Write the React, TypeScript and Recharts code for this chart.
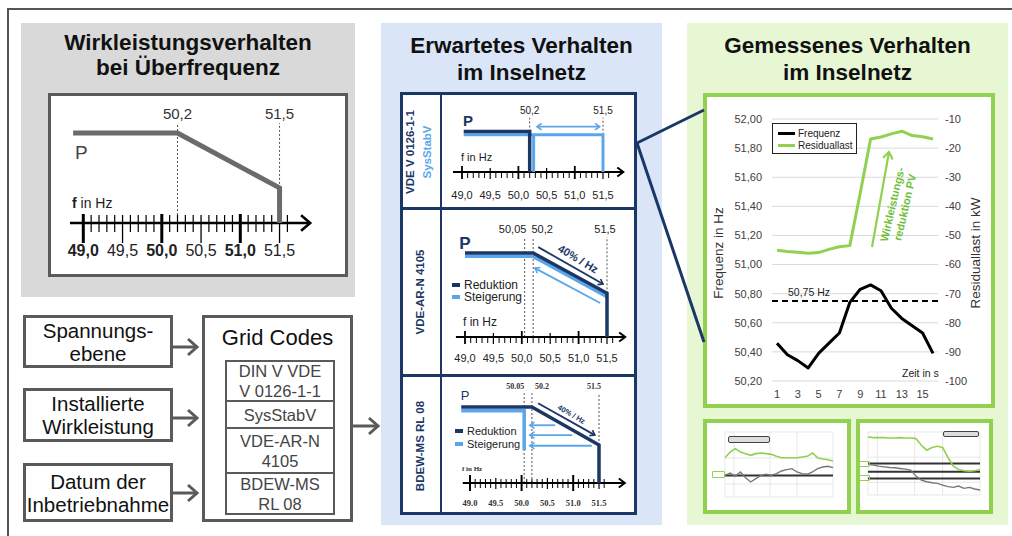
import React from 'react';
import { LineChart, Line, XAxis, YAxis, CartesianGrid, ReferenceLine, Legend } from 'recharts';

const FONT = '"Liberation Sans", Arial, Helvetica, sans-serif';
const SERIF = '"Liberation Serif", "DejaVu Serif", serif';
const NAVY = '#1b3766';
const LIGHT = '#5ba6ea';
const GREEN = '#92d050';
const GRAY = '#5a5a5a';

// Gemessenes Verhalten im Inselnetz
const zeit = ['1', '2', '3', '4', '5', '6', '7', '8', '9', '10', '11', '12', '13', '14', '15', '16'];
const frequenz = [50.46, 50.38, 50.34, 50.29, 50.39, 50.46, 50.53, 50.74, 50.83, 50.86, 50.82, 50.7, 50.63, 50.58, 50.53, 50.39];
const residuallast = [-55.1, -55.5, -55.8, -56.1, -55.9, -54.8, -53.9, -53.5, -35.5, -16.9, -16.2, -15.1, -14.2, -15.7, -16.1, -16.9];
const grenzFrequenz = 50.75;
const freqTicks = [50.2, 50.4, 50.6, 50.8, 51.0, 51.2, 51.4, 51.6, 51.8, 52.0];
const lastTicks = [-100, -90, -80, -70, -60, -50, -40, -30, -20, -10];

// P(f) Kennlinien
const ueberF = [48.87, 50.2, 51.5, 51.5];
const ueberP = [100, 100, 39, 0];
const vde0126F = [49.03, 50.2, 50.2];
const vde0126P = [100, 100, 0];
const sysStabF = [49.03, 51.5, 51.5];
const sysStabP = [92, 92, 0];
const sysStabBackF = [50.27, 50.27];
const sysStabBackP = [92, 0];
const ar4105RedF = [49.0, 50.2, 51.5, 51.5];
const ar4105RedP = [100, 100, 52, 0];
const ar4105SteigF = [49.0, 50.2, 51.5];
const ar4105SteigP = [96, 96, 48];
const bdewRedF = [48.83, 50.2, 51.5, 51.5];
const bdewRedP = [100, 100, 50, 0];
const bdewSteigF = [48.83, 50.05, 50.05];
const bdewSteigP = [95, 95, 43];

// Frequenzachse
const freqAxisTicks = Array.from({ length: 27 }, (_, i) => Math.round((49 + i * 0.1) * 10) / 10);
const freqLabelTicks = [49.0, 49.5, 50.0, 50.5, 51.0, 51.5];
const freqLabels = ['49,0', '49,5', '50,0', '50,5', '51,0', '51,5'];
const freqLabelsDot = ['49.0', '49.5', '50.0', '50.5', '51.0', '51.5'];

// Vorschaubilder
const thumbLGreen = [60.5, 69.2, 74.4, 69.2, 66.7, 64.1, 66.7, 67.7, 66.7, 65.6, 62.6, 60.5, 60.5, 60.5, 60.5, 61.5, 62.6, 67.7, 60.5, 58.5, 57.4, 55.4];
const thumbLGray = [33.3, 36.9, 31.8, 38.5, 29.7, 23.1, 28.2, 33.3, 34.9, 33.3, 35.9, 40, 42.1, 43.6, 38.5, 35.9, 34.9, 38.5, 43.6, 46.2, 47.2, 45.1];
const thumbLLevels = [33];
const thumbRGreen = [92.1, 91.1, 91.1, 91.1, 90.5, 90.5, 91.1, 90.5, 90.5, 89.5, 78.9, 71.1, 75.3, 77.4, 75.3, 59.5, 45.8, 40.5, 38.4, 37.9, 38.4, 40.5];
const thumbRGray = [48.9, 47.4, 45.8, 44.7, 43.7, 43.2, 42.1, 41.1, 39.5, 30, 23.7, 21.1, 19.5, 18.4, 15.8, 13.2, 12.1, 14.2, 10.5, 12.1, 9.5, 7.9];
const thumbRLevels = [50, 36.8, 26.3];

const einfluss = [['Spannungs-', 'ebene'], ['Installierte', 'Wirkleistung'], ['Datum der', 'Inbetriebnahme']];
const gridCodes = [['DIN V VDE', 'V 0126-1-1'], ['SysStabV'], ['VDE-AR-N', '4105'], ['BDEW-MS', 'RL 08']];

const pts = (f: number[], p: number[]) => f.map((x, i) => ({ f: x, p: p[i] }));

type Series = { f: number[]; p: number[]; color: string; w: number; end?: string; start?: string };
type Guide = { f: number; from: number; to: number; label: string; dx: number };
type TickCfg = {
  minor: number[]; half: number[]; major: number[];
  minorW: number; halfW: number; majorW: number;
  dy: number; size: number; family: string; boldMajor: boolean; boldAll: boolean; labels: string[]; color: string;
};
type GuideFont = { size: number; family: string; weight: number; color: string };

const renderLabel = (cfg: TickCfg) => (props: any) => {
  const { x, y, payload } = props;
  const t = Math.round(payload.value * 10);
  const li = freqLabelTicks.findIndex((v) => Math.round(v * 10) === t);
  const major = t % 10 === 0;
  return (
    <text x={x} y={y + cfg.dy} textAnchor="middle" fontSize={cfg.size} fontFamily={cfg.family}
      fontWeight={cfg.boldAll || (cfg.boldMajor && major) ? 700 : 400} fill={cfg.color}>{cfg.labels[li]}</text>
  );
};

function PfChart(props: {
  box: number[]; x49: number; hz: number; y0: number; y100: number;
  fRange: number[]; pMax: number; axis: number[]; axisW: number; axisMarker: string;
  series: Series[]; guides: Guide[]; guideFont: GuideFont; tick: TickCfg;
}) {
  const { box, x49, hz, y0, y100, fRange, pMax, axis, axisW, axisMarker, series, guides, guideFont, tick } = props;
  const [left, top, width, height] = box;
  const pxP = (y0 - y100) / 100;
  const mLeft = x49 + (fRange[0] - 49) * hz - left;
  const plotW = (fRange[1] - fRange[0]) * hz;
  const mRight = width - mLeft - plotW;
  const mTop = y0 - pMax * pxP - top;
  const xAxisH = top + height - y0;
  return (
    <div style={{ position: 'absolute', left, top }}>
      <LineChart width={width} height={height} margin={{ top: mTop, right: mRight, bottom: 0, left: mLeft }}>
        <XAxis type="number" dataKey="f" domain={fRange} ticks={freqLabelTicks} interval={0} tickSize={0} tickMargin={0}
          axisLine={false} tickLine={false} height={xAxisH} tick={renderLabel(tick)} allowDecimals />
        <YAxis type="number" dataKey="p" domain={[0, pMax]} hide />
        {guides.map((g, i) => (
          <ReferenceLine key={'g' + i} segment={[{ x: g.f, y: g.from }, { x: g.f, y: g.to }]} ifOverflow="visible"
            stroke="#555" strokeWidth={1} strokeDasharray="2 2"
            label={(lp: any) => (
              <text x={lp.viewBox.x + g.dx} y={lp.viewBox.y - 4} textAnchor="middle" fontSize={guideFont.size}
                fontFamily={guideFont.family} fontWeight={guideFont.weight} fill={guideFont.color}>{g.label}</text>
            )} />
        ))}
        {freqAxisTicks.map((v) => {
          const t = Math.round(v * 10);
          const major = t % 10 === 0;
          const half = t % 5 === 0 && !major;
          const [a, b] = major ? tick.major : half ? tick.half : tick.minor;
          const w = major ? tick.majorW : half ? tick.halfW : tick.minorW;
          return (
            <ReferenceLine key={'t' + t} segment={[{ x: v, y: -b / pxP }, { x: v, y: -a / pxP }]} ifOverflow="visible"
              stroke="#000" strokeWidth={w} />
          );
        })}
        <Line data={pts(axis, [0, 0])} dataKey="p" stroke="#000" strokeWidth={axisW} dot={false} activeDot={false}
          isAnimationActive={false} markerEnd={`url(#${axisMarker})`} />
        {series.map((s, i) => (
          <Line key={'s' + i} data={pts(s.f, s.p)} dataKey="p" stroke={s.color} strokeWidth={s.w} dot={false} activeDot={false}
            isAnimationActive={false} strokeLinejoin="miter" strokeLinecap="butt"
            markerEnd={s.end ? `url(#${s.end})` : undefined} markerStart={s.start ? `url(#${s.start})` : undefined} />
        ))}
      </LineChart>
    </div>
  );
}

const Marker = ({ id, color, sx, sy, w }: { id: string; color: string; sx: number; sy: number; w: number }) => (
  <marker id={id} viewBox={`0 0 ${sx} ${sy}`} refX={sx - w} refY={sy / 2} markerWidth={sx} markerHeight={sy}
    markerUnits="userSpaceOnUse" orient="auto-start-reverse">
    <path d={`M${w / 2},${w / 2} L${sx - w},${sy / 2} L${w / 2},${sy - w / 2}`} fill="none" stroke={color} strokeWidth={w} />
  </marker>
);

const T = ({ x, y, children, style, anchor = 'left' }: any) => (
  <div style={{ position: 'absolute', left: x, top: y, whiteSpace: 'nowrap', lineHeight: 1,
    transform: anchor === 'center' ? 'translate(-50%, -50%)' : 'translate(0, -50%)', ...style }}>{children}</div>
);

const R = ({ x, y, angle, children, style }: any) => (
  <div style={{ position: 'absolute', left: x, top: y, whiteSpace: 'nowrap', lineHeight: 1.15,
    transform: `translate(-50%, -50%) rotate(${angle}deg)`, ...style }}>{children}</div>
);

const LegendKey = ({ x, y, color, label, size = 12 }: any) => (
  <>
    <div style={{ position: 'absolute', left: x, top: y - 2, width: 8, height: 4, background: color }} />
    <T x={x + 12} y={y} style={{ fontSize: size, color: '#222' }}>{label}</T>
  </>
);

const tickBlue: TickCfg = {
  minor: [-1, 6], half: [-4, 7], major: [-6, 7], minorW: 1, halfW: 1.2, majorW: 1.8,
  dy: 27, size: 11, family: FONT, boldMajor: false, boldAll: false, labels: freqLabels, color: '#222',
};

function MainChart() {
  const data = zeit.map((t, i) => ({ t, f: frequenz[i], r: residuallast[i] }));
  return (
    <div style={{ position: 'absolute', left: 707, top: 97 }}>
      <LineChart width={285} height={308} data={data} margin={{ top: 22, right: 14, bottom: 4, left: 15 }}>
        <CartesianGrid yAxisId="l" vertical={false} stroke="#d9d9d9" strokeWidth={1} />
        <XAxis dataKey="t" interval={1} padding={{ left: 5, right: 5 }} axisLine={false} tickLine={false} tickSize={0}
          tickMargin={9} height={20} tick={{ fontSize: 11, fill: '#404040', fontFamily: FONT }} />
        <YAxis yAxisId="l" domain={[50.2, 52]} ticks={freqTicks} width={50} axisLine={false} tickLine={false} tickSize={0}
          tickMargin={10} tick={{ fontSize: 11, fill: '#404040', fontFamily: FONT }}
          tickFormatter={(v: number) => v.toFixed(2).replace('.', ',')} />
        <YAxis yAxisId="r" orientation="right" domain={[-100, -10]} ticks={lastTicks} width={40} axisLine={false}
          tickLine={false} tickSize={0} tickMargin={7} tick={{ fontSize: 11, fill: '#404040', fontFamily: FONT }} />
        <ReferenceLine yAxisId="l" y={grenzFrequenz} stroke="#000" strokeWidth={2} strokeDasharray="6 4"
          label={(lp: any) => (
            <text x={lp.viewBox.x + 16} y={lp.viewBox.y - 5} fontSize={10.5} fill="#222" fontFamily={FONT}>50,75 Hz</text>
          )} />
        <Line yAxisId="l" dataKey="f" name="Frequenz" stroke="#000" strokeWidth={3} dot={false} activeDot={false}
          isAnimationActive={false} strokeLinejoin="round" />
        <Line yAxisId="r" dataKey="r" name="Residuallast" stroke={GREEN} strokeWidth={3} dot={false} activeDot={false}
          isAnimationActive={false} strokeLinejoin="round" />
        <Legend layout="vertical" align="center" verticalAlign="middle"
          wrapperStyle={{ left: 65, top: 26, width: 85, height: 31 }}
          content={() => (
            <div style={{ width: 85, height: 31, boxSizing: 'border-box', border: '1px solid #222', background: '#fff',
              position: 'relative', fontFamily: FONT, fontSize: 10, color: '#222' }}>
              <div style={{ position: 'absolute', left: 5, top: 8, width: 17, height: 3, background: '#000' }} />
              <div style={{ position: 'absolute', left: 25, top: 4 }}>Frequenz</div>
              <div style={{ position: 'absolute', left: 5, top: 20, width: 17, height: 3, background: GREEN }} />
              <div style={{ position: 'absolute', left: 25, top: 16 }}>Residuallast</div>
            </div>
          )} />
      </LineChart>
    </div>
  );
}

function Thumb({ left, top, w, h, margin, green, gray, levels }: any) {
  const data = green.map((g: number, i: number) => ({ i, g, k: gray[i] }));
  return (
    <div style={{ position: 'absolute', left, top }}>
      <LineChart width={w} height={h} data={data} margin={margin}>
        <CartesianGrid stroke="#dedede" strokeWidth={0.7} />
        <XAxis type="number" dataKey="i" domain={[0, 21]} ticks={[0, 1.75, 3.5, 5.25, 7, 8.75, 10.5, 12.25, 14, 15.75, 17.5, 19.25, 21]} hide />
        <YAxis domain={[0, 100]} ticks={[0, 10, 20, 30, 40, 50, 60, 70, 80, 90, 100]} hide />
        {levels.map((v: number, i: number) => (
          <ReferenceLine key={i} y={v} stroke="#333" strokeWidth={2} ifOverflow="visible" />
        ))}
        <Line dataKey="k" stroke="#777" strokeWidth={1.4} dot={false} activeDot={false} isAnimationActive={false} />
        <Line dataKey="g" stroke={GREEN} strokeWidth={1.6} dot={false} activeDot={false} isAnimationActive={false} />
      </LineChart>
    </div>
  );
}

const titleStyle = (left: number, top: number, width: number, lh: number): React.CSSProperties => ({
  position: 'absolute', left, top, width, textAlign: 'center', fontSize: 22.5, fontWeight: 700, lineHeight: `${lh}px`, color: '#111',
});

export default function App() {
  return (
    <div style={{ position: 'fixed', left: 0, top: 0, width: 1012, height: 536, background: '#fff', overflow: 'hidden', fontFamily: FONT }}>
      <svg width={0} height={0} style={{ position: 'absolute' }}>
        <defs>
          <Marker id="arrBig" color="#000" sx={13} sy={18} w={2.6} />
          <Marker id="arrSmall" color="#000" sx={9} sy={11} w={2} />
          <Marker id="arrNavy" color={NAVY} sx={7} sy={8} w={1.6} />
          <Marker id="arrLight" color={LIGHT} sx={7} sy={8} w={1.6} />
          <Marker id="arrGreen" color={GREEN} sx={10} sy={12} w={2.2} />
        </defs>
      </svg>

      <div style={{ position: 'absolute', left: 7, top: 8, width: 1040, height: 560, border: '2px solid #555' }} />

      {/* Wirkleistungsverhalten */}
      <div style={{ position: 'absolute', left: 21, top: 23, width: 334, height: 274, background: '#d9d9d9' }} />
      <div style={titleStyle(21, 29.7, 334, 25)}>Wirkleistungsverhalten<br />bei Überfrequenz</div>
      <div style={{ position: 'absolute', left: 48, top: 93, width: 300, height: 184, boxSizing: 'border-box', border: '3px solid #5a5a5a', background: '#fff' }} />
      <PfChart box={[48, 93, 300, 184]} x49={83.3} hz={78.5} y0={223} y100={133} fRange={[48.6, 52.1]} pMax={115}
        axis={[48.83, 51.89]} axisW={2.6} axisMarker="arrBig"
        series={[{ f: ueberF, p: ueberP, color: '#6b6b6b', w: 5 }]}
        guides={[{ f: 50.2, from: 0, to: 111, label: '50,2', dx: 0 }, { f: 51.5, from: 39, to: 111, label: '51,5', dx: 0 }]}
        guideFont={{ size: 15, family: FONT, weight: 400, color: '#333' }}
        tick={{ minor: [-8, 9], half: [-8, 20], major: [-9, 20], minorW: 1.2, halfW: 1.3, majorW: 3,
          dy: 33, size: 16, family: FONT, boldMajor: true, boldAll: false, labels: freqLabels, color: '#222' }} />
      <T x={75} y={152} style={{ fontSize: 19, color: '#444' }}>P</T>
      <T x={72} y={203} style={{ fontSize: 14, color: '#222' }}><b>f</b> in Hz</T>

      {/* Einflussfaktoren */}
      {einfluss.map((lines, i) => {
        const tops = [315, 388, 463];
        const hs = [53, 54, 59];
        return (
          <div key={i} style={{ position: 'absolute', left: 23, top: tops[i], width: 150, height: hs[i], boxSizing: 'border-box',
            border: '3px solid #5a5a5a', background: '#fff', display: 'flex', flexDirection: 'column', justifyContent: 'center',
            alignItems: 'center', fontSize: 20.5, lineHeight: '23px', color: '#111' }}>
            {lines.map((l, j) => <div key={j}>{l}</div>)}
          </div>
        );
      })}
      <div style={{ position: 'absolute', left: 202, top: 315, width: 151, height: 207, boxSizing: 'border-box', border: '3px solid #5a5a5a', background: '#fff' }} />
      <T x={277.5} y={338} anchor="center" style={{ fontSize: 22, color: '#111' }}>Grid Codes</T>
      {gridCodes.map((lines, i) => {
        const tops = [360, 400, 427, 472];
        const bottoms = [400, 427, 472, 513];
        return (
          <div key={i} style={{ position: 'absolute', left: 225, top: tops[i], width: 110, height: bottoms[i] - tops[i] + 2,
            boxSizing: 'border-box', border: '2px solid #5a5a5a', display: 'flex', flexDirection: 'column',
            justifyContent: 'center', alignItems: 'center', fontSize: 16.5, lineHeight: '20px', color: '#444' }}>
            {lines.map((l, j) => <div key={j}>{l}</div>)}
          </div>
        );
      })}

      {/* Erwartetes Verhalten */}
      <div style={{ position: 'absolute', left: 381, top: 23, width: 281, height: 502, background: '#dae6f7' }} />
      <div style={titleStyle(381, 31.7, 281, 27)}>Erwartetes Verhalten<br />im Inselnetz</div>
      <div style={{ position: 'absolute', left: 400, top: 92, width: 237, height: 423, background: '#fff' }} />
      <PfChart box={[441, 92, 196, 116]} x49={462} hz={56.4} y0={172} y100={131.5} fRange={[48.8, 52.0]} pMax={145}
        axis={[48.84, 51.86]} axisW={2} axisMarker="arrSmall"
        series={[
          { f: sysStabF, p: sysStabP, color: LIGHT, w: 3 },
          { f: sysStabBackF, p: sysStabBackP, color: LIGHT, w: 3 },
          { f: vde0126F, p: vde0126P, color: NAVY, w: 3.5 },
          { f: [50.33, 51.44], p: [112, 112], color: LIGHT, w: 1.6, start: 'arrLight', end: 'arrLight' },
        ]}
        guides={[{ f: 50.2, from: 100, to: 134, label: '50,2', dx: 0 }, { f: 51.5, from: 92, to: 134, label: '51,5', dx: 0 }]}
        guideFont={{ size: 10, family: FONT, weight: 400, color: '#222' }}
        tick={tickBlue} />
      <T x={468} y={120} anchor="center" style={{ fontSize: 15, fontWeight: 700, color: NAVY }}>P</T>
      <T x={461} y={157} style={{ fontSize: 11, color: '#222' }}>f in Hz</T>

      <PfChart box={[441, 208, 196, 167]} x49={465} hz={56.8} y0={337} y100={253} fRange={[48.8, 52.0]} pMax={125}
        axis={[48.84, 51.82]} axisW={2} axisMarker="arrSmall"
        series={[
          { f: ar4105SteigF, p: ar4105SteigP, color: LIGHT, w: 3.5 },
          { f: ar4105RedF, p: ar4105RedP, color: NAVY, w: 3.5 },
          { f: [50.29, 51.43], p: [107, 63], color: NAVY, w: 1.8, end: 'arrNavy' },
          { f: [51.38, 50.23], p: [40.5, 82], color: LIGHT, w: 1.8, end: 'arrLight' },
        ]}
        guides={[
          { f: 50.05, from: 0, to: 119, label: '50,05', dx: -12 },
          { f: 50.2, from: 0, to: 119, label: '50,2', dx: 9 },
          { f: 51.5, from: 52, to: 119, label: '51,5', dx: -2 },
        ]}
        guideFont={{ size: 11, family: FONT, weight: 400, color: '#222' }}
        tick={{ ...tickBlue, dy: 25 }} />
      <T x={465} y={243} anchor="center" style={{ fontSize: 17, fontWeight: 700, color: NAVY }}>P</T>
      <R x={578} y={259} angle={31} style={{ fontSize: 11, fontWeight: 700, color: NAVY }}>40% / Hz</R>
      <LegendKey x={452} y={285} color={NAVY} label="Reduktion" />
      <LegendKey x={452} y={297} color={LIGHT} label="Steigerung" />
      <T x={463} y={322} style={{ fontSize: 12, color: '#222' }}>f in Hz</T>

      <PfChart box={[441, 375, 196, 140]} x49={470} hz={51.6} y0={483} y100={407} fRange={[48.8, 52.0]} pMax={125}
        axis={[48.86, 52.0]} axisW={2} axisMarker="arrSmall"
        series={[
          { f: bdewSteigF, p: bdewSteigP, color: LIGHT, w: 3.5 },
          { f: bdewRedF, p: bdewRedP, color: NAVY, w: 3.5 },
          { f: [50.65, 50.16], p: [76, 76], color: LIGHT, w: 1.8, end: 'arrLight' },
          { f: [50.98, 50.16], p: [63, 63], color: LIGHT, w: 1.8, end: 'arrLight' },
          { f: [51.36, 50.16], p: [49, 49], color: LIGHT, w: 1.8, end: 'arrLight' },
          { f: [50.32, 51.42], p: [105, 63], color: NAVY, w: 1.8, end: 'arrNavy' },
        ]}
        guides={[
          { f: 50.05, from: 0, to: 118, label: '50.05', dx: -9 },
          { f: 50.2, from: 0, to: 118, label: '50.2', dx: 10 },
          { f: 51.5, from: 50, to: 118, label: '51.5', dx: -5 },
        ]}
        guideFont={{ size: 8, family: SERIF, weight: 700, color: '#333' }}
        tick={{ minor: [-4, 5], half: [-5, 6], major: [-8, 8], minorW: 1, halfW: 1.2, majorW: 2,
          dy: 23, size: 8.5, family: SERIF, boldMajor: false, boldAll: true, labels: freqLabelsDot, color: '#333' }} />
      <T x={465} y={395} anchor="center" style={{ fontSize: 13, color: NAVY }}>P</T>
      <R x={571} y={415} angle={30} style={{ fontSize: 7.5, fontWeight: 700, color: NAVY }}>40% / Hz</R>
      <LegendKey x={455} y={431} color={NAVY} label="Reduktion" size={11} />
      <LegendKey x={455} y={444} color={LIGHT} label="Steigerung" size={11} />
      <T x={462} y={469} style={{ fontSize: 7, fontWeight: 700, color: '#333', fontFamily: SERIF }}>f in Hz</T>

      {/* Tabellenrahmen */}
      <div style={{ position: 'absolute', left: 400, top: 92, width: 237, height: 423, boxSizing: 'border-box', border: `3px solid ${NAVY}` }} />
      <div style={{ position: 'absolute', left: 440, top: 92, width: 2, height: 423, background: NAVY }} />
      <div style={{ position: 'absolute', left: 400, top: 207, width: 237, height: 2.5, background: NAVY }} />
      <div style={{ position: 'absolute', left: 400, top: 374, width: 237, height: 2.5, background: NAVY }} />
      <R x={411} y={152} angle={-90} style={{ fontSize: 11.5, fontWeight: 700, color: NAVY }}>VDE V 0126-1-1</R>
      <R x={428} y={152} angle={-90} style={{ fontSize: 11.5, fontWeight: 700, color: LIGHT }}>SysStabV</R>
      <R x={421} y={292} angle={-90} style={{ fontSize: 11.5, fontWeight: 700, color: NAVY }}>VDE-AR-N 4105</R>
      <R x={421} y={446} angle={-90} style={{ fontSize: 11.5, fontWeight: 700, color: NAVY }}>BDEW-MS RL 08</R>

      {/* Gemessenes Verhalten */}
      <div style={{ position: 'absolute', left: 687, top: 23, width: 321, height: 502, background: '#e7f6d3' }} />
      <div style={titleStyle(687, 31.7, 321, 27)}>Gemessenes Verhalten<br />im Inselnetz</div>
      <div style={{ position: 'absolute', left: 703, top: 93, width: 292, height: 315, boxSizing: 'border-box', border: `4px solid ${GREEN}`, background: '#fff' }} />
      <MainChart />
      <R x={719} y={253} angle={-90} style={{ fontSize: 13.5, color: '#333' }}>Frequenz in Hz</R>
      <R x={976} y={253} angle={-90} style={{ fontSize: 13.5, color: '#333' }}>Residuallast in kW</R>
      <T x={902} y={373} style={{ fontSize: 10.5, color: '#222' }}>Zeit in s</T>
      <R x={899} y={206} angle={-77} style={{ fontSize: 11, fontWeight: 700, color: '#6fbf3a', textAlign: 'center', lineHeight: '13px' }}>
        Wirkleistungs-<br />reduktion PV
      </R>

      <div style={{ position: 'absolute', left: 703, top: 419, width: 148, height: 95, boxSizing: 'border-box', border: `4px solid ${GREEN}`, background: '#fff' }} />
      <div style={{ position: 'absolute', left: 856, top: 419, width: 137, height: 95, boxSizing: 'border-box', border: `4px solid ${GREEN}`, background: '#fff' }} />
      <Thumb left={707} top={423} w={140} h={87} margin={{ left: 18, right: 14, top: 9, bottom: 13 }}
        green={thumbLGreen} gray={thumbLGray} levels={thumbLLevels} />
      <Thumb left={860} top={423} w={129} h={87} margin={{ left: 8, right: 9, top: 9, bottom: 15 }}
        green={thumbRGreen} gray={thumbRGray} levels={thumbRLevels} />
      <div style={{ position: 'absolute', left: 728, top: 436, width: 40, height: 5, border: '1.5px solid #444', borderRadius: 2, background: '#ddd' }} />
      <div style={{ position: 'absolute', left: 943, top: 431, width: 34, height: 4, border: '1.5px solid #444', borderRadius: 2, background: '#ddd' }} />
      <div style={{ position: 'absolute', left: 712, top: 471, width: 11, height: 5, border: `1.5px solid ${GREEN}`, borderRadius: 1 }} />
      <div style={{ position: 'absolute', left: 858, top: 461, width: 10, height: 4, border: `1.5px solid ${GREEN}`, borderRadius: 1 }} />
      <div style={{ position: 'absolute', left: 858, top: 475, width: 10, height: 4, border: `1.5px solid ${GREEN}`, borderRadius: 1 }} />

      {/* Pfeile und Verbindungen */}
      <svg width={1012} height={536} style={{ position: 'absolute', left: 0, top: 0, pointerEvents: 'none' }}>
        {[347, 418, 493].map((y) => (
          <g key={y} stroke={GRAY} strokeWidth={3} fill="none">
            <line x1={173} y1={y} x2={196} y2={y} />
            <path d={`M188,${y - 8} L197,${y} L188,${y + 8}`} />
          </g>
        ))}
        <g stroke={GRAY} strokeWidth={3} fill="none">
          <line x1={353} y1={426} x2={377} y2={426} />
          <path d={`M369,418 L378,426 L369,434`} />
        </g>
        <line x1={637} y1={143} x2={704} y2={110} stroke={NAVY} strokeWidth={3} />
        <line x1={637} y1={143} x2={704} y2={342} stroke={NAVY} strokeWidth={3} />
        <line x1={872} y1={247} x2={889} y2={152} stroke={GREEN} strokeWidth={2.2} markerEnd="url(#arrGreen)" />
      </svg>
    </div>
  );
}
